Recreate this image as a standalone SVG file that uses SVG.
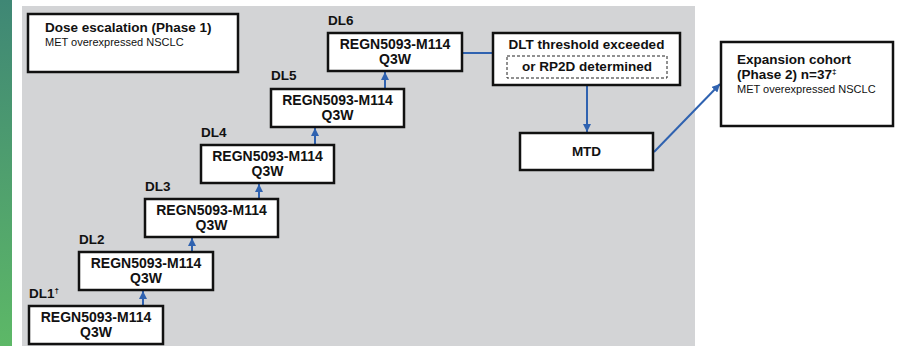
<svg xmlns="http://www.w3.org/2000/svg" width="897" height="346" viewBox="0 0 897 346">
<defs>
<linearGradient id="green" x1="0" y1="0" x2="0" y2="1">
<stop offset="0" stop-color="#3f8775"/>
<stop offset="0.5" stop-color="#4f9f6e"/>
<stop offset="1" stop-color="#5db867"/>
</linearGradient>
<marker id="ah" markerUnits="userSpaceOnUse" markerWidth="8" markerHeight="8" viewBox="0 0 8 8" refX="8" refY="4" orient="auto">
<path d="M0,0 L8,4 L0,8 z" fill="#2f62b0"/>
</marker>
<style>
.box{fill:#fff;stroke:#111;stroke-width:2.5}
.dash{fill:none;stroke:#222;stroke-width:1;stroke-dasharray:3 2}
.b{font-family:"Liberation Sans",Arial,sans-serif;font-weight:bold;font-size:13.5px;fill:#111}
.bb{font-size:14px}
.r{font-family:"Liberation Sans",Arial,sans-serif;font-size:11px;fill:#111}
.c{text-anchor:middle}
.con{stroke:#2f62b0;stroke-width:2;fill:none}
</style>
</defs>
<rect x="0" y="0" width="897" height="346" fill="#fff"/>
<rect x="0" y="0" width="12" height="346" fill="url(#green)"/>
<rect x="22" y="6" width="673" height="340" fill="#d3d4d6"/>

<g id="connectors">
<line class="con" x1="143" y1="306" x2="143" y2="291" marker-end="url(#ah)"/>
<line class="con" x1="192" y1="252" x2="192" y2="238" marker-end="url(#ah)"/>
<line class="con" x1="259" y1="199" x2="259" y2="184" marker-end="url(#ah)"/>
<line class="con" x1="315" y1="145" x2="315" y2="128" marker-end="url(#ah)"/>
<line class="con" x1="385" y1="89" x2="385" y2="72" marker-end="url(#ah)"/>
<line class="con" x1="462" y1="53" x2="493" y2="53"/>
<line class="con" x1="587" y1="85" x2="587" y2="132" marker-end="url(#ah)"/>
<line class="con" x1="654" y1="152" x2="720" y2="84" marker-end="url(#ah)"/>
</g>

<g id="dose-escalation">
<rect class="box" x="28" y="14" width="210" height="58"/>
<text class="b" x="45" y="32">Dose escalation (Phase 1)</text>
<text class="r" x="45" y="46">MET overexpressed NSCLC</text>
</g>

<g id="dl1">
<text class="b" x="29" y="298">DL1<tspan font-size="8" dy="-5">†</tspan></text>
<rect class="box" x="29" y="306" width="134" height="38"/>
<text class="b bb c" x="96" y="322">REGN5093-M114</text>
<text class="b bb c" x="96" y="337">Q3W</text>
</g>

<g id="dl2">
<text class="b" x="79" y="244">DL2</text>
<rect class="box" x="79" y="252" width="134" height="38"/>
<text class="b bb c" x="146" y="268">REGN5093-M114</text>
<text class="b bb c" x="146" y="283">Q3W</text>
</g>

<g id="dl3">
<text class="b" x="145" y="191">DL3</text>
<rect class="box" x="145" y="199" width="133" height="38"/>
<text class="b bb c" x="211.5" y="215">REGN5093-M114</text>
<text class="b bb c" x="211.5" y="230">Q3W</text>
</g>

<g id="dl4">
<text class="b" x="201" y="137">DL4</text>
<rect class="box" x="201" y="145" width="133" height="38"/>
<text class="b bb c" x="267.5" y="161">REGN5093-M114</text>
<text class="b bb c" x="267.5" y="176">Q3W</text>
</g>

<g id="dl5">
<text class="b" x="271" y="80">DL5</text>
<rect class="box" x="271" y="89" width="133" height="38"/>
<text class="b bb c" x="337.5" y="105">REGN5093-M114</text>
<text class="b bb c" x="337.5" y="120">Q3W</text>
</g>

<g id="dl6">
<text class="b" x="328" y="25">DL6</text>
<rect class="box" x="328" y="33" width="134" height="38"/>
<text class="b bb c" x="395" y="49">REGN5093-M114</text>
<text class="b bb c" x="395" y="64">Q3W</text>
</g>

<g id="dlt">
<rect class="box" x="493" y="33" width="187" height="52"/>
<text class="b c" x="586.5" y="49">DLT threshold exceeded</text>
<rect class="dash" x="507" y="56" width="160" height="22"/>
<text class="b c" x="587" y="71">or RP2D determined</text>
</g>

<g id="mtd">
<rect class="box" x="520" y="133" width="133" height="37"/>
<text class="b c" x="586.5" y="156">MTD</text>
</g>

<g id="expansion">
<rect class="box" x="721" y="42" width="172" height="84"/>
<text class="b" x="737" y="64">Expansion cohort</text>
<text class="b" x="737" y="79">(Phase 2) n=37<tspan font-size="8" dy="-5">‡</tspan></text>
<text class="r" x="737" y="93">MET overexpressed NSCLC</text>
</g>
</svg>
